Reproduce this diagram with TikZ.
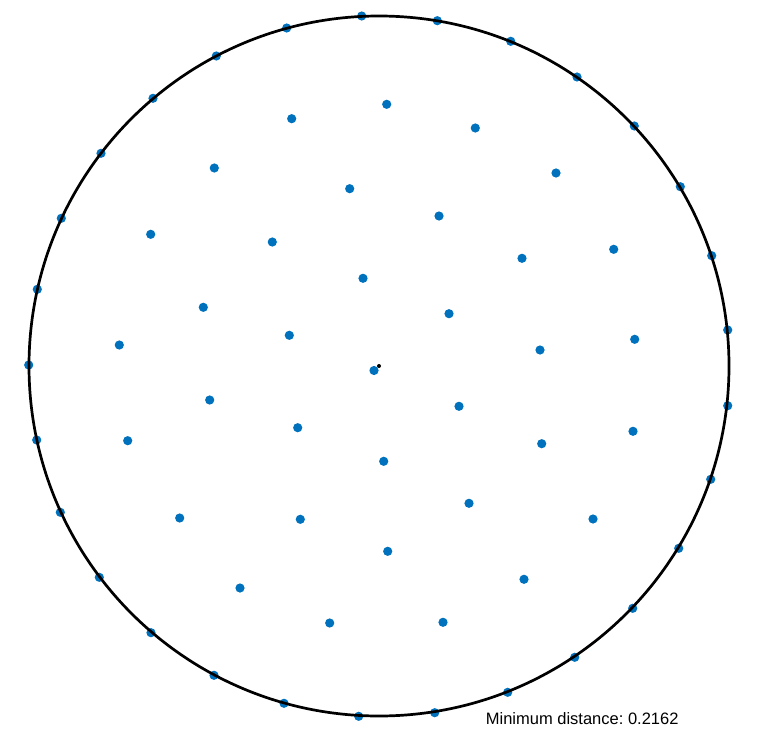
\documentclass[tikz,border=0pt]{standalone}
\usepackage{fontspec}
\setmainfont{Liberation Sans}
\usepackage{tikz}
\usetikzlibrary{positioning}
\definecolor{dotblue}{RGB}{0,114,189}
\frenchspacing

\begin{document}
\begin{tikzpicture}[x=1pt,y=-1pt]
			\tikzset{
				ptdot/.style={fill=dotblue},
				rim/.style={draw=black, line width=2.7pt}
			}
			\useasboundingbox (0,0) rectangle (759,738);
			% points on the rim
			\foreach \px/\py in {361.7/16, 437.3/20.7, 510.7/41.3, 577/77, 634.3/126, 680.3/186.7, 711.7/255.7, 727.7/330,
				727.7/405.7, 710.7/479.3, 678.7/548.3, 632.7/608.3, 574.7/657.3, 507.7/692.3, 434.7/712.7, 358.7/716.3,
				284/703.3, 214/675.3, 151/632.7, 99.3/577.3, 60.3/512.3, 36.7/440, 28.7/365, 37.3/289.3,
				61.3/218.3, 101/153.3, 153/98.3, 216.3/56, 286.7/28}
				\fill[ptdot] (\px,\py) circle (4.6);
			% interior points
			\foreach \px/\py in {386.7/104.3, 291.7/118.7, 475.3/128, 214.3/168, 556/173, 349.7/188.7, 439/216,
				150.7/234.3, 272.3/242, 613.7/249.3, 522/258.3, 363/278.3, 203.3/307.3, 449/313.7, 289.3/335.3,
				634.7/339.3, 119.3/345, 540/350, 374/370.5, 209.7/400, 459/406.3, 127.7/440.7, 297.7/427.7,
				541.7/443.7, 633/431.3, 383.7/461.3, 469/503.3, 179.7/518, 300.3/519.3, 593/519, 387.7/551.3,
				240/588, 524/579.3, 329.7/623, 443/622.3}
				\fill[ptdot] (\px,\py) circle (4.6);
			\node[rim, circle, minimum size=700pt, inner sep=0pt] (disk) at (379,366) {};
			\fill[black] (disk.center) circle (2);
			\node[anchor=base west, inner sep=0pt, font=\fontsize{16.5}{20}\selectfont] (mindist) at (485.7,724) {Minimum distance: 0.2162};
		\end{tikzpicture}
\end{document}
